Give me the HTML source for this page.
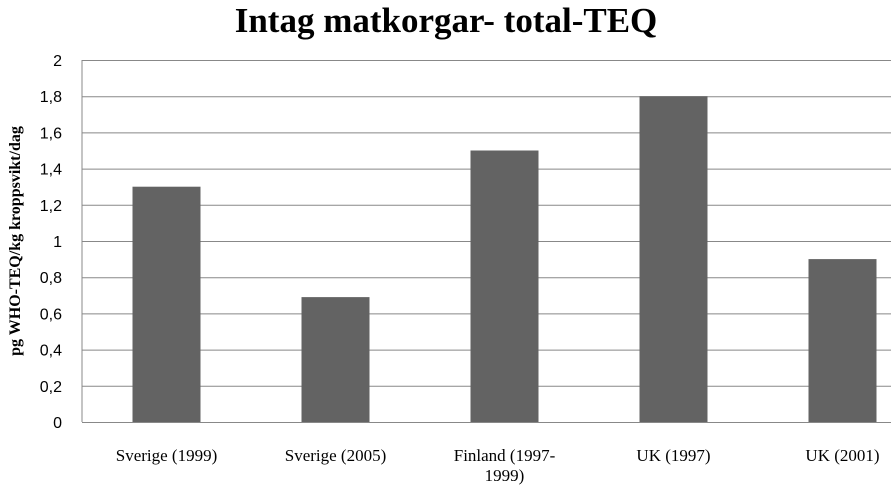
<!DOCTYPE html>
<html><head><meta charset="utf-8"><style>
body{margin:0;background:#fff;width:891px;height:487px;overflow:hidden}
</style></head><body>
<svg width="891" height="487" xmlns="http://www.w3.org/2000/svg">
<text x="446" y="32" text-anchor="middle" font-family="Liberation Serif, serif" font-weight="bold" font-size="35" fill="#000">Intag matkorgar- total-TEQ</text>
<text transform="translate(20,241) rotate(-90)" text-anchor="middle" font-family="Liberation Serif, serif" font-weight="bold" font-size="16" fill="#000">pg WHO-TEQ/kg kroppsvikt/dag</text>
<g id="grid"></g><g id="bars"></g><g id="ylabels"></g><g id="xlabels"></g>
<line x1="82" y1="60" x2="82" y2="422" stroke="#888" stroke-width="1"/>
</svg>
<script>
const categories=["Sverige (1999)","Sverige (2005)","Finland (1997-|1999)","UK (1997)","UK (2001)"];
const values=[1.3,0.69,1.5,1.8,0.9];
const ticks=[0,0.2,0.4,0.6,0.8,1,1.2,1.4,1.6,1.8,2];
const tickLabels=["0","0,2","0,4","0,6","0,8","1","1,2","1,4","1,6","1,8","2"];
const NS="http://www.w3.org/2000/svg";
const y0=422,y1=60,x0=82,step=169;
const y=v=>y0-(v/2)*(y0-y1);
const xc=i=>x0+step*(i+0.5)-0;
function mk(t,a,p){const e=document.createElementNS(NS,t);for(const k in a)e.setAttribute(k,a[k]);document.getElementById(p).appendChild(e);return e;}
ticks.forEach((t,i)=>{
const l=mk('line',{x1:x0,x2:891,y1:y(t)+0.5,y2:y(t)+0.5,stroke:'#888','stroke-width':1},'grid');


const tx=mk('text',{x:62,y:y(t)+6,'text-anchor':'end','font-family':'Liberation Sans, sans-serif','font-size':16,fill:'#000'},'ylabels');
tx.textContent=tickLabels[i];


});
values.forEach((v,i)=>{
const r=mk('rect',{x:xc(i)-34,y:y(v),width:68,height:y0-y(v),fill:'#636363'},'bars');


const lines=categories[i].split('|');
lines.forEach((s,j)=>{
const tx=mk('text',{x:xc(i),y:461+j*20,'text-anchor':'middle','font-family':'Liberation Serif, serif','font-size':17,fill:'#000'},'xlabels');
tx.textContent=s;


});
});
</script>
</body></html>
